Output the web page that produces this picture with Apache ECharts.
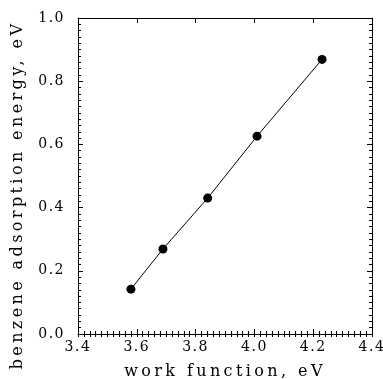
<!DOCTYPE html>
<html><head><meta charset="utf-8">
<script src="https://cdn.jsdelivr.net/npm/echarts@6/dist/echarts.min.js"></script>
<style>
html,body{margin:0;padding:0;background:#fff}
#c{width:383px;height:379px}
</style>
</head><body><div id="c"></div>
<script>
var workFunction = [3.580, 3.689, 3.841, 4.009, 4.230];
var adsorptionEnergy = [0.142, 0.269, 0.430, 0.626, 0.869];
var xTitle = 'work function, eV';
var yTitle = 'benzene adsorption energy, eV';
var FONT = "DejaVu Serif";

// widen letter spacing (the reference uses a wide, typewriter-like serif face)
(function () {
  var proto = CanvasRenderingContext2D.prototype;
  var origFill = proto.fillText;
  var origMeasure = proto.measureText;
  function spacing(font) {
    if (/\b16px/.test(font)) return '3.4px';
    if (/\b14px/.test(font)) return '1.5px';
    return '0px';
  }
  proto.fillText = function (t, x, y, m) {
    if ('letterSpacing' in this) this.letterSpacing = spacing(this.font);
    return m === undefined ? origFill.call(this, t, x, y) : origFill.call(this, t, x, y, m);
  };
  proto.measureText = function (t) {
    if ('letterSpacing' in this) this.letterSpacing = spacing(this.font);
    return origMeasure.call(this, t);
  };
})();

var data = workFunction.map(function (x, i) { return [x, adsorptionEnergy[i]]; });
var chart = echarts.init(document.getElementById('c'), null, {renderer: 'canvas'});
var gridRect = {left: 78, right: 11, top: 18, bottom: 45, containLabel: false, outerBoundsMode: 'none'};
function majorAxis(extra) {
  return Object.assign({
    type: 'value', gridIndex: 0,
    axisLine: {show: true, onZero: false, lineStyle: {color: '#000', width: 1}},
    axisTick: {show: true, inside: true, length: 5, lineStyle: {color: '#000', width: 1}},
    splitLine: {show: false}
  }, extra);
}
function minorAxis(extra) {
  return Object.assign({
    type: 'value', gridIndex: 1,
    axisLine: {show: false},
    axisLabel: {show: false},
    axisTick: {show: true, inside: true, length: 3, lineStyle: {color: '#000', width: 1}},
    splitLine: {show: false}
  }, extra);
}
var fmt = function (v) { return v.toFixed(1); };
chart.setOption({
  backgroundColor: '#fff',
  animation: false,
  grid: [Object.assign({}, gridRect), Object.assign({}, gridRect)],
  xAxis: [
    majorAxis({min: 3.4, max: 4.4, interval: 0.2, position: 'bottom',
      name: xTitle, nameLocation: 'middle', nameGap: 28,
      nameTextStyle: {fontFamily: FONT, fontSize: 16, color: '#000'},
      axisLabel: {fontFamily: FONT, fontSize: 14, color: '#000', margin: 6, formatter: fmt}}),
    majorAxis({min: 3.4, max: 4.4, interval: 0.2, position: 'top', axisLabel: {show: false}}),
    minorAxis({min: 3.4, max: 4.4, interval: 0.02, position: 'bottom'}),
    minorAxis({min: 3.4, max: 4.4, interval: 0.02, position: 'top'})
  ],
  yAxis: [
    majorAxis({min: 0, max: 1, interval: 0.2, position: 'left',
      axisLabel: {fontFamily: FONT, fontSize: 14, color: '#000', margin: 13, formatter: fmt}}),
    majorAxis({min: 0, max: 1, interval: 0.2, position: 'right', axisLabel: {show: false}}),
    minorAxis({min: 0, max: 1, interval: 0.02, position: 'left'}),
    minorAxis({min: 0, max: 1, interval: 0.02, position: 'right'})
  ],
  graphic: [{
    type: 'text', x: 18, y: 195, rotation: Math.PI / 2,
    style: {text: yTitle, fontFamily: FONT, fontSize: 16, fill: '#000',
      align: 'center', verticalAlign: 'middle'}
  }],
  series: [{
    type: 'line', xAxisIndex: 0, yAxisIndex: 0, data: data, symbol: 'circle', symbolSize: 9,
    lineStyle: {color: '#000', width: 1}, itemStyle: {color: '#000'}
  }]
});
</script></body></html>
